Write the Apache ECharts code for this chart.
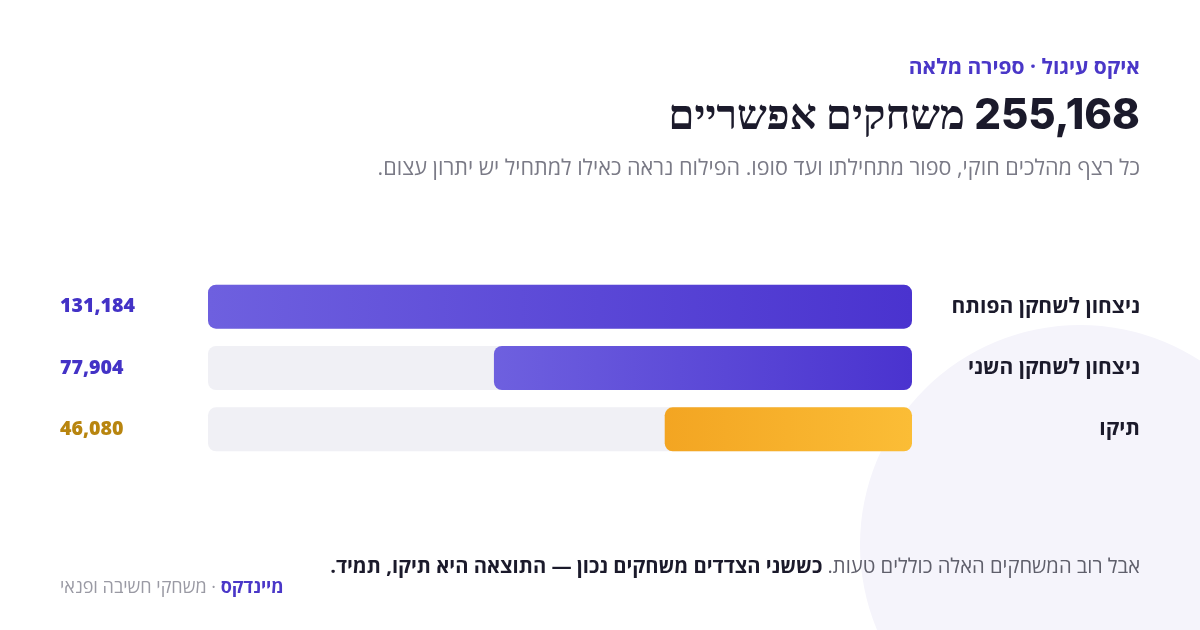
<!DOCTYPE html>
<html lang="he">
<head>
<meta charset="utf-8">
<script src="https://cdn.jsdelivr.net/npm/echarts@6/dist/echarts.min.js"></script>
<style>
  html, body { margin: 0; padding: 0; background: #ffffff; }
  #chart { width: 1200px; height: 630px; direction: rtl; }
</style>
</head>
<body>
<div id="chart"></div>
<script>
// ---- data ----
const categories = ['ניצחון לשחקן הפותח', 'ניצחון לשחקן השני', 'תיקו'];
const values = [131184, 77904, 46080];
const total = 255168;
const kicker = 'איקס עיגול · ספירה מלאה';
const headline = total.toLocaleString('en-US') + ' משחקים אפשריים';
const subline = 'כל רצף מהלכים חוקי, ספור מתחילתו ועד סופו. הפילוח נראה כאילו למתחיל יש יתרון עצום.';
const footRegular = 'אבל רוב המשחקים האלה כוללים טעות. ';
const footBold = 'כששני הצדדים משחקים נכון — התוצאה היא תיקו, תמיד.';
const brand = 'מיינדקס';
const brandTail = 'משחקי חשיבה ופנאי';

const maxVal = Math.max(...values);
const fmt = v => v.toLocaleString('en-US');

const purpleGrad = new echarts.graphic.LinearGradient(0, 0, 1, 0, [
  { offset: 0, color: '#6e60df' }, { offset: 1, color: '#4a33cf' }
]);
const goldGrad = new echarts.graphic.LinearGradient(0, 0, 1, 0, [
  { offset: 0, color: '#f3a522' }, { offset: 1, color: '#fbbd36' }
]);
const barColors = [purpleGrad, purpleGrad, goldGrad];
const valueColors = ['#4332c6', '#4332c6', '#b8850f'];

const FONT = '"Open Sans", "DejaVu Sans", sans-serif';
const HFONT = 'Inter';

const chart = echarts.init(document.getElementById('chart'), null, { renderer: 'canvas' });
chart.setOption({
  animation: false,
  backgroundColor: '#ffffff',
  textStyle: { fontFamily: FONT },
  graphic: [
    { type: 'circle', z: -10, silent: true,
      shape: { cx: 1080, cy: 545, r: 220 },
      style: { fill: '#f5f4fb' } }
  ],
  title: [
    { text: kicker, right: 60, top: 58, padding: 0,
      textStyle: { fontFamily: FONT, fontSize: 21, fontWeight: 700, color: '#4a37c8' } },
    { text: headline, right: 60, top: 95, padding: 0,
      textStyle: { fontFamily: HFONT, fontSize: 42, fontWeight: 800, color: '#1b1a2b' } },
    { text: subline, right: 60, top: 158, padding: 0,
      textStyle: { fontFamily: FONT, fontSize: 21.6, fontWeight: 400, color: '#7a7a86' } },
    { text: '{b|' + footBold + '}{r|' + footRegular + '}', right: 60, top: 557, padding: 0,
      textStyle: { fontFamily: FONT, fontSize: 20,
        rich: {
          r: { fontFamily: FONT, fontSize: 20.2, fontWeight: 400, color: '#5f5f6b' },
          b: { fontFamily: FONT, fontSize: 20.2, fontWeight: 700, color: '#1b1a2b' }
        } } },
    { text: '{g|' + brandTail + '}{g| · }{b|' + brand + '}', left: 60, top: 579, padding: 0,
      textStyle: { fontFamily: FONT, fontSize: 18,
        rich: {
          g: { fontFamily: FONT, fontSize: 18, fontWeight: 400, color: '#9a9aa4' },
          b: { fontFamily: FONT, fontSize: 18, fontWeight: 700, color: '#4a37c8' }
        } } }
  ],
  grid: { left: 208, right: 288, top: 276, height: 184, containLabel: false },
  xAxis: {
    type: 'value', inverse: true, min: 0, max: maxVal,
    show: false
  },
  yAxis: [
    { type: 'category', data: categories, inverse: true, position: 'right',
      axisLine: { show: false }, axisTick: { show: false }, splitLine: { show: false },
      axisLabel: { align: 'right', margin: 228, fontFamily: FONT, fontSize: 21,
        fontWeight: 700, color: '#1b1a2b', padding: [5, 0, 0, 0] } },
    { type: 'category', data: values.map(fmt), inverse: true, position: 'left',
      axisLine: { show: false }, axisTick: { show: false }, splitLine: { show: false },
      axisLabel: { align: 'left', margin: 148, fontFamily: FONT, fontSize: 19.6,
        fontWeight: 800, color: (v, i) => valueColors[i], padding: [7, 0, 0, 0] } }
  ],
  series: [
    { type: 'bar', yAxisIndex: 0, barWidth: 44, silent: true, z: 1,
      data: values.map(() => maxVal),
      itemStyle: { color: '#f0f0f5', borderRadius: 8 } },
    { type: 'bar', yAxisIndex: 0, barWidth: 44, barGap: '-100%', z: 2,
      data: values.map((v, i) => ({ value: v, itemStyle: { color: barColors[i] } })),
      itemStyle: { borderRadius: 8 } }
  ]
});
</script>
</body>
</html>
